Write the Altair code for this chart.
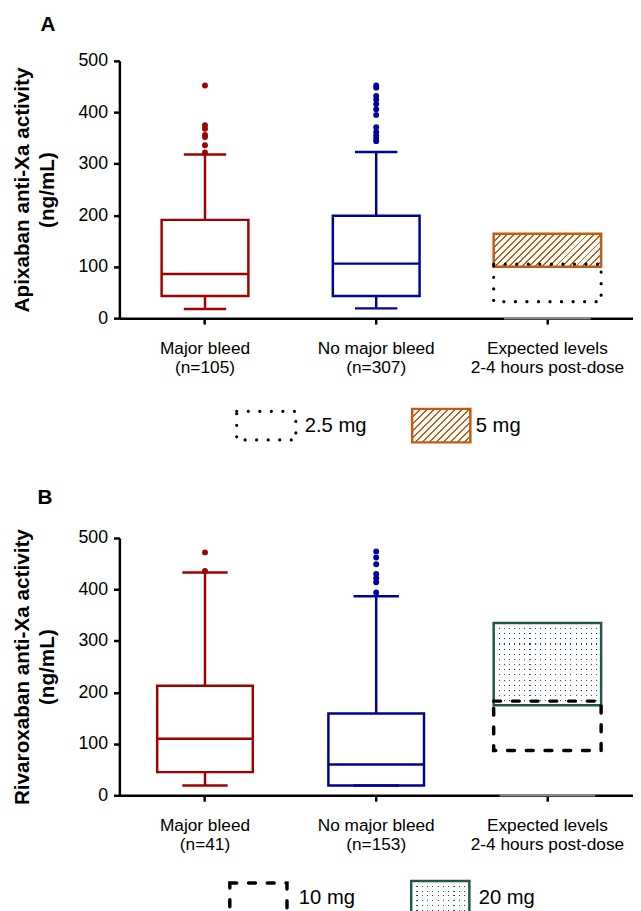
import altair as alt
import pandas as pd

FONT = "Liberation Sans"

# ---------------- data: panel A (apixaban) ----------------
cats_a = ["Major bleed\n(n=105)", "No major bleed\n(n=307)", "Expected levels\n2-4 hours post-dose"]
a_low = [18, 19]
a_q1 = [43, 43]
a_med = [86, 106]
a_q3 = [191, 199]
a_high = [318, 323]
a_out_major = [322, 336, 352, 356, 368, 375, 452]
a_out_nomajor = [344, 349, 355, 362, 371, 395, 406, 416, 425, 432, 448, 452]
a_doses = ["2.5 mg", "5 mg"]
a_dose_low = [32, 100]
a_dose_high = [105, 164]

# ---------------- data: panel B (rivaroxaban) ----------------
cats_b = ["Major bleed\n(n=41)", "No major bleed\n(n=153)", "Expected levels\n2-4 hours post-dose"]
b_low = [19, 19]
b_q1 = [45, 19]
b_med = [110, 60]
b_q3 = [213, 159]
b_high = [433, 387]
b_out_major = [436, 472]
b_out_nomajor = [394, 414, 422, 430, 449, 462, 474]
b_doses = ["10 mg", "20 mg"]
b_dose_low = [87, 175]
b_dose_high = [183, 335]

zero_level = [0]
y_ticks = [0, 100, 200, 300, 400, 500]

GROUP_COLORS = ["#a00000", "#00009c"]
ORANGE = "#c55a11"
GREEN = "#1e5b3c"
GREY = "#8a8a8a"
PLOT_W = 521
PLOT_H = 261


def stripe_gradient(n, frac, fg, bg, x2, y2):
    stops = []
    for i in range(n):
        s = i / n
        m = (i + frac) / n
        e = (i + 1) / n
        stops += [
            alt.GradientStop(offset=s, color=fg),
            alt.GradientStop(offset=m, color=fg),
            alt.GradientStop(offset=m, color=bg),
            alt.GradientStop(offset=e, color=bg),
        ]
    return alt.LinearGradient(gradient="linear", stops=stops, x1=0, y1=0, x2=x2, y2=y2)


def hatch(W, H, spacing=4.9, frac=0.28):
    r = H / W
    a = (1 + r) / (1 + r * r)
    n = max(1, round((W + H) / 2 ** 0.5 / spacing))
    return stripe_gradient(n, frac, ORANGE, "white", a, a * r)


def dot_columns(W, spacing=5.3, frac=0.2):
    n = max(1, round(W / spacing))
    return stripe_gradient(n, frac, GREEN, "white", 1, 0)


def dot_rows_mask(H, spacing=5.2, frac=0.2):
    n = max(1, round(H / spacing))
    return stripe_gradient(n, frac, "rgba(255,255,255,0)", "white", 0, 1)


def make_axes(ytitle):
    xaxis = alt.Axis(
        title=None, labelExpr="split(datum.label, '\\n')", labelAngle=0,
        labelFontSize=17.5, labelFont=FONT, labelColor="black", labelLineHeight=19.5,
        labelPadding=16, domainColor="black", domainWidth=2.5, tickColor="black",
        tickWidth=2.5, tickSize=6, grid=False,
    )
    yaxis = alt.Axis(
        title=[ytitle, "(ng/mL)"], titleFontSize=21, titleFontWeight="bold",
        titleFont=FONT, titleColor="black", titleLineHeight=25, titlePadding=21,
        values=y_ticks, labelFontSize=18, labelFont=FONT, labelColor="black",
        labelPadding=6, domainColor="black", domainWidth=2.5, tickColor="black",
        tickWidth=2.5, tickSize=6, grid=False,
    )
    return xaxis, yaxis


def panel(cats, low, q1, med, q3, high, outs, doses, dose_low, dose_high,
          box_w, cap_w, ytitle, letter, letter_dx, letter_offset, kind):
    xaxis, yaxis = make_axes(ytitle)
    yscale = alt.Scale(domain=[0, 500], nice=False)
    xenc = alt.X("group:N", scale=alt.Scale(domain=cats, paddingInner=0, paddingOuter=0),
                 axis=xaxis, sort=cats)

    def Y(f):
        return alt.Y(f, type="quantitative", scale=yscale, axis=yaxis)

    cscale = alt.Scale(domain=cats[:2], range=GROUP_COLORS)
    col = alt.Color("group:N", scale=cscale, legend=None)
    strk = alt.Stroke("group:N", scale=cscale, legend=None)

    box_df = pd.DataFrame({"group": cats[:2], "low": low, "q1": q1, "med": med,
                           "q3": q3, "high": high})
    out_df = pd.DataFrame({
        "group": [cats[0]] * len(outs[0]) + [cats[1]] * len(outs[1]),
        "value": outs[0] + outs[1],
    })
    base = alt.Chart(box_df)
    w_lo = base.mark_rule(strokeWidth=2.5).encode(x=xenc, y=Y("low"), y2="q1:Q", color=col)
    w_hi = base.mark_rule(strokeWidth=2.5).encode(x=xenc, y=Y("q3"), y2="high:Q", color=col)
    cap_lo = base.mark_tick(size=cap_w, thickness=2.5, opacity=1).encode(x=xenc, y=Y("low"), color=col)
    cap_hi = base.mark_tick(size=cap_w, thickness=2.5, opacity=1).encode(x=xenc, y=Y("high"), color=col)
    box = base.mark_bar(size=box_w, fill="transparent", strokeWidth=2.5).encode(
        x=xenc, y=Y("q1"), y2="q3:Q", stroke=strk)
    median = base.mark_tick(size=box_w, thickness=2.5, opacity=1).encode(x=xenc, y=Y("med"), color=col)
    pts = alt.Chart(out_df).mark_circle(size=36, opacity=1).encode(x=xenc, y=Y("value"), color=col)

    zero_df = pd.DataFrame({"group": [cats[2]] * len(zero_level), "value": zero_level})
    zero = alt.Chart(zero_df).mark_tick(size=box_w, thickness=2.5, color=GREY, opacity=1).encode(
        x=xenc, y=Y("value"))

    exp_df = pd.DataFrame({"group": [cats[2]] * 2, "dose": doses, "low": dose_low, "high": dose_high})
    eb = alt.Chart(exp_df)
    ew = 109
    H = (dose_high[1] - dose_low[1]) * PLOT_H / 500
    if kind == "hatch":
        big = eb.transform_filter(alt.datum.dose == doses[1]).mark_bar(
            size=ew, fill=hatch(ew, H), stroke=ORANGE, strokeWidth=2.5).encode(
            x=xenc, y=Y("low"), y2="high:Q")
        small = eb.transform_filter(alt.datum.dose == doses[0]).mark_bar(
            size=ew, fill="transparent", stroke="black", strokeWidth=3.2,
            strokeDash=[0.1, 11.6], strokeCap="round").encode(x=xenc, y=Y("low"), y2="high:Q")
        exp_layers = [big, small]
    else:
        under = eb.transform_filter(alt.datum.dose == doses[1]).mark_bar(
            size=ew, fill=dot_columns(ew)).encode(x=xenc, y=Y("low"), y2="high:Q")
        mask = eb.transform_filter(alt.datum.dose == doses[1]).mark_bar(
            size=ew, fill=dot_rows_mask(H), stroke=GREEN, strokeWidth=2.5).encode(
            x=xenc, y=Y("low"), y2="high:Q")
        small = eb.transform_filter(alt.datum.dose == doses[0]).mark_bar(
            size=ew, fill="transparent", stroke="black", strokeWidth=3.5,
            strokeDash=[7, 12], strokeCap="round").encode(x=xenc, y=Y("low"), y2="high:Q")
        exp_layers = [under, mask, small]

    return alt.layer(w_lo, w_hi, cap_lo, cap_hi, box, median, pts, zero, *exp_layers).properties(
        width=PLOT_W, height=PLOT_H,
        title=alt.TitleParams(letter, anchor="start", frame="bounds", fontSize=21,
                              fontWeight="bold", font=FONT, color="black",
                              dx=letter_dx, offset=letter_offset),
    )


def rect_path(W, H):
    s = W / 2
    h = H / 2 / s
    return f"M-1,-{h:.4f}H1V{h:.4f}H-1Z", int(round(W * W))


def legend(doses, centers, dxs, kind):
    df = pd.DataFrame({"dose": doses})
    xenc = alt.X("dose:N", scale=alt.Scale(type="point", domain=doses, range=centers, padding=0),
                 axis=None)
    base = alt.Chart(df).encode(x=xenc)
    if kind == "hatch":
        p1, s1 = rect_path(60, 29)
        p2, s2 = rect_path(59, 34)
        sym1 = base.transform_filter(alt.datum.dose == doses[0]).mark_point(
            shape=p1, size=s1, filled=True, fill="transparent", stroke="black", strokeWidth=3.2,
            strokeDash=[0.1, 11.6], strokeCap="round", opacity=1)
        sym2 = base.transform_filter(alt.datum.dose == doses[1]).mark_point(
            shape=p2, size=s2, filled=True, fill=hatch(59, 34), stroke=ORANGE, strokeWidth=2.5,
            opacity=1)
        syms = [sym1, sym2]
    else:
        p1, s1 = rect_path(58, 30)
        p2, s2 = rect_path(59, 34)
        sym1 = base.transform_filter(alt.datum.dose == doses[0]).mark_point(
            shape=p1, size=s1, filled=True, fill="transparent", stroke="black", strokeWidth=3.5,
            strokeDash=[7, 12], strokeCap="round", opacity=1)
        sym2a = base.transform_filter(alt.datum.dose == doses[1]).mark_point(
            shape=p2, size=s2, filled=True, fill=dot_columns(59), strokeWidth=0, opacity=1)
        sym2b = base.transform_filter(alt.datum.dose == doses[1]).mark_point(
            shape=p2, size=s2, filled=True, fill=dot_rows_mask(34), stroke=GREEN, strokeWidth=2.5,
            opacity=1)
        syms = [sym1, sym2a, sym2b]
    txts = [
        base.transform_filter(alt.datum.dose == d).mark_text(
            align="left", baseline="middle", dx=dx, fontSize=20.5, font=FONT, color="black"
        ).encode(text="dose:N")
        for d, dx in zip(doses, dxs)
    ]
    return alt.layer(*syms, *txts).properties(width=PLOT_W, height=40)


panel_a = panel(cats_a, a_low, a_q1, a_med, a_q3, a_high, [a_out_major, a_out_nomajor],
                a_doses, a_dose_low, a_dose_high, 88, 43,
                "Apixaban anti-Xa activity", "A", 29, 17, "hatch")
panel_b = panel(cats_b, b_low, b_q1, b_med, b_q3, b_high, [b_out_major, b_out_nomajor],
                b_doses, b_dose_low, b_dose_high, 97, 46,
                "Rivaroxaban anti-Xa activity", "B", 26, 21, "dots")

leg_a = legend(a_doses, [149, 326.5], [39, 35], "hatch")
leg_b = legend(b_doses, [141, 325.5], [41, 39], "dots")

chart = alt.vconcat(
    alt.vconcat(panel_a, leg_a, spacing=27),
    alt.vconcat(panel_b, leg_b, spacing=22),
    spacing=39,
).properties(
    padding={"left": 3, "top": 0, "right": 0, "bottom": 2},
    background="white",
).configure_view(stroke=None)

chart.save("out.html", embed_options={"renderer": "svg", "actions": False})
